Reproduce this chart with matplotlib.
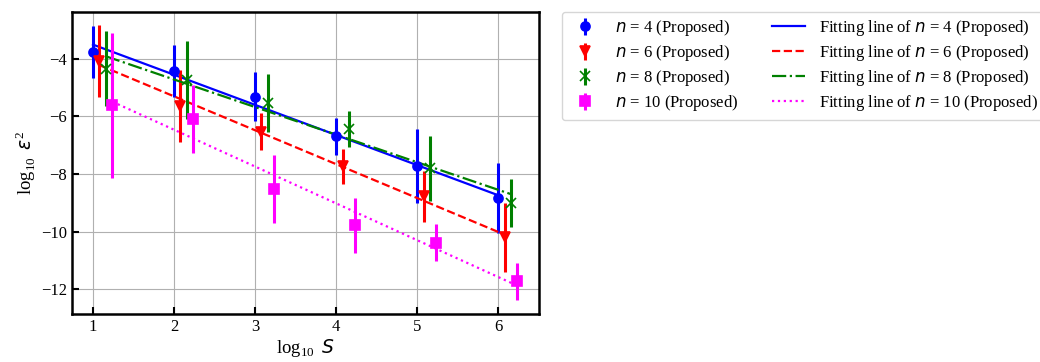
import numpy as np
import matplotlib
matplotlib.use("Agg")
import matplotlib.pyplot as plt

plt.rcParams['font.family'] = 'Liberation Serif'
plt.rcParams['mathtext.fontset'] = 'custom'
plt.rcParams['mathtext.rm'] = 'Liberation Serif'
plt.rcParams['mathtext.it'] = 'DejaVu Sans:italic'

# log10 S positions and per-series offsets
s = np.array([1, 2, 3, 4, 5, 6])
offsets = [0.0, 0.08, 0.16, 0.24]
n_values = [4, 6, 8, 10]

# log10 eps^2 means and error half-widths
y_n4 = [-3.77, -4.43, -5.32, -6.70, -7.71, -8.83]
e_n4 = [0.89, 0.90, 0.85, 0.63, 1.28, 1.21]
y_n6 = [-4.10, -5.64, -6.54, -7.74, -8.77, -10.20]
e_n6 = [1.25, 1.24, 0.64, 0.59, 0.89, 1.18]
y_n8 = [-4.35, -4.73, -5.54, -6.43, -7.81, -9.01]
e_n8 = [1.29, 1.35, 1.00, 0.62, 1.13, 0.82]
y_n10 = [-5.62, -6.09, -8.52, -9.78, -10.38, -11.72]
e_n10 = [2.52, 1.17, 1.17, 0.95, 0.63, 0.65]

ys = [y_n4, y_n6, y_n8, y_n10]
es = [e_n4, e_n6, e_n8, e_n10]
colors = ['blue', 'red', 'green', 'magenta']
markers = ['o', 'v', 'x', 's']
styles = ['-', '--', '-.', ':']

fig = plt.figure(figsize=(10.4, 3.62), dpi=100)
ax = fig.add_axes([0.069, 0.133, 0.449, 0.835])

eb_handles = []
fit_handles = []
for k in range(4):
    x = s + offsets[k]
    y = np.array(ys[k])
    h = ax.errorbar(x, y, yerr=es[k], fmt=markers[k], color=colors[k],
                    markersize=6.5, elinewidth=2.2, capsize=0,
                    markeredgewidth=1.2,
                    label="$n$ = %d (Proposed)" % n_values[k])
    eb_handles.append(h)
    p = np.polyfit(x, y, 1)
    l, = ax.plot(x, np.polyval(p, x), linestyle=styles[k], color=colors[k],
                 linewidth=1.6,
                 label="Fitting line of $n$ = %d (Proposed)" % n_values[k])
    fit_handles.append(l)

ax.grid(True, color='#b0b0b0', linewidth=0.8)
ax.set_axisbelow(True)
ax.tick_params(direction='in', length=5, width=1.5, labelsize=12)
for sp in ax.spines.values():
    sp.set_linewidth(1.8)
ax.set_yticks([-4, -6, -8, -10, -12])
ax.set_xticks([1, 2, 3, 4, 5, 6])
ax.set_xlabel(r"$\log_{10}$ $S$", fontsize=13.5, labelpad=2)
ax.set_ylabel(r"$\log_{10}$ $\varepsilon^2$", fontsize=13.5, labelpad=2)

ax.legend(handles=eb_handles + fit_handles, ncol=2, loc='upper left',
          bbox_to_anchor=(1.05, 1.0), fontsize=12, borderaxespad=0,
          columnspacing=2.0, handlelength=2.0, labelspacing=0.3)

fig.savefig("out.png", dpi=100)
